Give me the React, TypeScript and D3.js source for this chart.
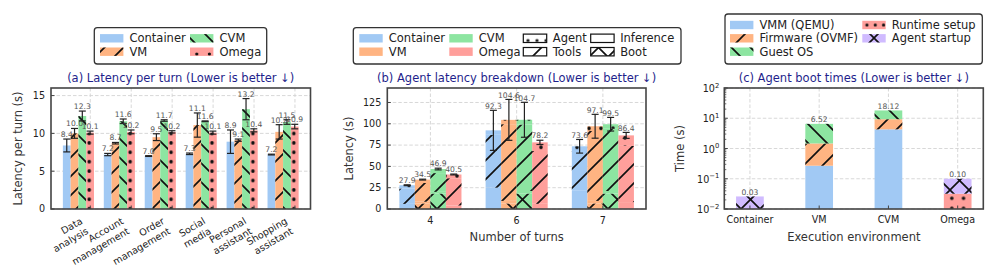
import React from 'react';
import * as d3 from 'd3';

const FONT = "'DejaVu Sans', sans-serif";
const ENV_NAMES = ['Container', 'VM', 'CVM', 'Omega'];
const ENV_COLORS = ['#a1c9f4', '#ffb482', '#8de5a1', '#ff9f9b'];
const PURPLE = '#d0bbff';

// ---------- (a) latency per turn ----------
const taskLines = [
  ['Data', 'analysis'],
  ['Account', 'management'],
  ['Order', 'management'],
  ['Social', 'media'],
  ['Personal', 'assistant'],
  ['Shopping', 'assistant'],
];
const latContainer = [8.4, 7.2, 7.0, 7.3, 8.9, 7.2];
const latVM = [10.0, 8.7, 9.5, 11.1, 9.1, 10.2];
const latCVM = [12.3, 11.6, 11.7, 11.6, 13.2, 11.5];
const latOmega = [10.1, 10.2, 10.2, 10.1, 10.4, 10.9];
const errContainer = [0.85, 0.15, 0.05, 0.1, 1.55, 0.05];
const errVM = [0.65, 0.1, 0.45, 1.6, 0.15, 0.95];
const errCVM = [0.65, 0.3, 0.1, 0.05, 1.4, 0.3];
const errOmega = [0.2, 0.25, 0.15, 0.2, 0.2, 0.3];
const aTicks = [0, 5, 10, 15];

// ---------- (b) agent latency breakdown ----------
const turns = ['4', '6', '7'];
// [env][turn]
const bootB = [[0.03, 0.03, 0.03], [6.52, 6.52, 6.52], [18.12, 18.12, 18.12], [0.1, 0.1, 0.1]];
const inferB = [[6, 25, 22], [2, 3, 3], [2, 3, 3], [4, 6, 8]];
const toolsB = [[18, 62, 46], [22, 90, 82], [22, 78, 73], [32, 62, 66]];
const agentB = [[3.87, 5.27, 5.57], [3.98, 5.08, 5.58], [4.78, 5.58, 5.38], [4.4, 10.1, 12.3]];
const errB = [[0.5, 23.5, 8], [0.5, 24, 14], [1.0, 20.5, 8], [0.5, 2.5, 3.5]];
const bTicks = [0, 25, 50, 75, 100, 125];

// ---------- (c) agent boot times ----------
const bootEnvs = ['Container', 'VM', 'CVM', 'Omega'];
const vmmC = [0, 0.27, 4.3, 0];
const firmwareC = [0, 1.2, 5.0, 0];
const guestC = [0, 5.05, 8.82, 0];
const runtimeC = [0, 0, 0, 0.032];
const startupC = [0.026, 0, 0, 0.068];
const cExps = [-2, -1, 0, 1, 2];

const HP = 19;
const FWD = `M${-HP / 4},${HP / 4} L${HP / 4},${-HP / 4} M0,${HP} L${HP},0 M${HP * 0.75},${HP * 1.25} L${HP * 1.25},${HP * 0.75}`;
const BACK = `M0,0 L${HP},${HP} M${-HP / 4},${HP * 0.75} L${HP / 4},${HP * 1.25} M${HP * 0.75},${-HP / 4} L${HP * 1.25},${HP / 4}`;

function LinePat({ id, d }: { id: string; d: string }) {
  return (
    <pattern id={id} patternUnits="userSpaceOnUse" width={HP} height={HP}>
      <path d={d} stroke="#111" strokeWidth={1.7} fill="none" />
    </pattern>
  );
}
function DotPat({ id, x, y, w, h, r = 1.8 }: any) {
  return (
    <pattern id={id} patternUnits="userSpaceOnUse" x={x} y={y} width={w} height={h}>
      <circle cx={w / 2} cy={h / 2} r={r} fill="#111" />
    </pattern>
  );
}

function HatchRect({ x, y, w, h, color, hatch, stroke }: any) {
  if (h <= 0 || w <= 0) return null;
  return (
    <g>
      <rect x={x} y={y} width={w} height={h} fill={color} stroke={stroke || 'none'} strokeWidth={stroke ? 1.2 : 0} />
      {hatch && <rect x={x} y={y} width={w} height={h} fill={`url(#${hatch})`} />}
    </g>
  );
}

function Frame({ x0, x1, y0, y1 }: any) {
  return <rect x={x0} y={y1} width={x1 - x0} height={y0 - y1} fill="none" stroke="#444" strokeWidth={1.6} />;
}

function LegendItem({ x, y, color, hatch, label, outline }: any) {
  return (
    <g>
      <HatchRect x={x} y={y - 4.2} w={23.4} h={8.4} color={color} hatch={hatch} stroke={outline ? '#111' : null} />
      <text x={x + 29.5} y={y + 4.1} fontSize={11.5} fill="#222" fontFamily={FONT}>{label}</text>
    </g>
  );
}

function ErrBar({ x, lo, hi }: any) {
  return (
    <g stroke="#222" strokeWidth={1.2}>
      <line x1={x} x2={x} y1={lo} y2={hi} />
      <line x1={x - 3.5} x2={x + 3.5} y1={lo} y2={lo} />
      <line x1={x - 3.5} x2={x + 3.5} y1={hi} y2={hi} />
    </g>
  );
}

const GRID = { stroke: '#d4d4d4', strokeWidth: 0.9, strokeDasharray: '3.5,2' };

export default function App() {
  // scales
  const xA = d3.scaleLinear().domain([-0.67, 5.67]).range([51, 310.5]);
  const yA = d3.scaleLinear().domain([0, 16]).range([209, 88]);
  const xB = d3.scaleLinear().domain([-0.5, 2.5]).range([387.3, 646]);
  const yB = d3.scaleLinear().domain([0, 142]).range([209, 88]);
  const xC = d3.scaleLinear().domain([-0.37, 3.37]).range([724.3, 983.3]);
  const yC = d3.scaleLog().domain([1e-2, 1e2]).range([209, 88]).clamp(true);

  const wA = 0.19;
  const tickOffA = 0.29;
  const wB = 0.18;
  const wC = 0.4;

  const seriesA = [latContainer, latVM, latCVM, latOmega];
  const errA = [errContainer, errVM, errCVM, errOmega];
  const hatchA = [null, 'fwd', 'back', 'dotsA'];

  const dotsAW = (xA(1) - xA(0)) / 4;
  const omegaLeftA = xA(0 + 1 * wA);

  const stacksB = [bootB, inferB, toolsB, agentB];
  const hatchB = ['cross', null, 'fwd', 'dotsB'];

  const stacksC = [vmmC, firmwareC, guestC, runtimeC, startupC];
  const colorsC = [ENV_COLORS[0], ENV_COLORS[1], ENV_COLORS[2], ENV_COLORS[3], PURPLE];
  const hatchC = [null, 'fwd', 'back', 'dotsC', 'cross'];

  const [a0, a1] = xA.range();
  const [b0, b1] = xB.range();
  const [c0, c1] = xC.range();
  const bottom = 209, top = 88;

  const minorC: number[] = [];
  for (let d = -2; d < 2; d++) for (let m = 2; m <= 9; m++) minorC.push(m * Math.pow(10, d));

  return (
    <svg width={997} height={279} style={{ position: 'absolute', left: 0, top: 0, background: '#fff' }} fontFamily={FONT}>
      <defs>
        <LinePat id="fwd" d={FWD} />
        <LinePat id="back" d={BACK} />
        <LinePat id="cross" d={FWD + ' ' + BACK} />
        <DotPat id="dotsA" x={omegaLeftA + 3 - dotsAW / 2} y={yA(0) - 9.7 - 4.7} w={dotsAW} h={9.4} />
        <DotPat id="dotsB" x={583} y={123.55} w={12} h={9.5} />
        <DotPat id="dotsC" x={xC(3) - 11.7} y={193.3} w={11.7} h={10} />
        <DotPat id="legDotsA" x={190.5} y={44} w={12.6} h={20} r={1.6} />
        <DotPat id="legDotsB" x={523.5} y={30.5} w={9} h={20} r={1.6} />
        <DotPat id="legDotsC" x={862.8} y={19.5} w={8.3} h={11} r={1.6} />
      </defs>

      {/* ================= (a) ================= */}
      <g>
        {aTicks.map((t) => (
          <line key={'ga' + t} x1={a0} x2={a1} y1={yA(t)} y2={yA(t)} {...GRID} />
        ))}
        {taskLines.map((_, k) => (
          <line key={'gva' + k} x1={xA(k + tickOffA)} x2={xA(k + tickOffA)} y1={top} y2={bottom} {...GRID} />
        ))}
        {seriesA.map((vals, i) =>
          vals.map((v, k) => {
            const x0 = xA(k + (i - 2) * wA);
            const x1 = xA(k + (i - 1) * wA);
            return (
              <HatchRect key={`a${i}-${k}`} x={x0} y={yA(v)} w={x1 - x0} h={yA(0) - yA(v)} color={ENV_COLORS[i]} hatch={hatchA[i]} />
            );
          })
        )}
        {seriesA.map((vals, i) =>
          vals.map((v, k) => {
            const cx = xA(k + (i - 1.5) * wA);
            const e = errA[i][k];
            return (
              <g key={`ae${i}-${k}`}>
                <ErrBar x={cx} lo={yA(v - e)} hi={yA(v + e)} />
                <text x={cx} y={yA(v + e) - 2} fontSize={7.6} fill="#555" textAnchor="middle">{v.toFixed(1)}</text>
              </g>
            );
          })
        )}
        <Frame x0={a0} x1={a1} y0={bottom} y1={top} />
        {aTicks.map((t) => (
          <g key={'ta' + t}>
            <line x1={a0} x2={a0 + 3.5} y1={yA(t)} y2={yA(t)} stroke="#444" strokeWidth={1} />
            <text x={a0 - 6} y={yA(t) + 3.4} fontSize={9.6} textAnchor="end" fill="#222">{t}</text>
          </g>
        ))}
        {taskLines.map((lines, k) => {
          const tx = xA(k + tickOffA);
          return (
            <g key={'xa' + k}>
              <line x1={tx} x2={tx} y1={bottom} y2={bottom - 3.5} stroke="#444" strokeWidth={1} />
              <text transform={`translate(${tx - 7},223) rotate(-30)`} fontSize={9.6} textAnchor="end" fill="#222">
                {lines.map((l, j) => (
                  <tspan key={j} x={0} y={j * 11.7}>{l}</tspan>
                ))}
              </text>
            </g>
          );
        })}
        <text transform={`translate(21.5,${(top + bottom) / 2}) rotate(-90)`} fontSize={11.5} textAnchor="middle" fill="#333">
          Latency per turn (s)
        </text>
        <text x={(a0 + a1) / 2} y={82} fontSize={11.5} textAnchor="middle" fill="#1f1f8c">
          (a) Latency per turn (Lower is better ↓)
        </text>
        {/* legend */}
        <rect x={94.3} y={27.7} width={172.4} height={36.3} rx={3} fill="#fff" stroke="#333" strokeWidth={1.3} />
        <LegendItem x={100} y={38.3} color={ENV_COLORS[0]} label={ENV_NAMES[0]} />
        <LegendItem x={100} y={51.7} color={ENV_COLORS[1]} hatch="fwd" label={ENV_NAMES[1]} />
        <LegendItem x={190} y={38.3} color={ENV_COLORS[2]} hatch="back" label={ENV_NAMES[2]} />
        <LegendItem x={190} y={51.7} color={ENV_COLORS[3]} hatch="legDotsA" label={ENV_NAMES[3]} />
      </g>

      {/* ================= (b) ================= */}
      <g>
        {bTicks.map((t) => (
          <line key={'gb' + t} x1={b0} x2={b1} y1={yB(t)} y2={yB(t)} {...GRID} />
        ))}
        {turns.map((_, k) => (
          <line key={'gvb' + k} x1={xB(k)} x2={xB(k)} y1={top} y2={bottom} {...GRID} />
        ))}
        {ENV_NAMES.map((_, i) =>
          turns.map((_, k) => {
            const x0 = xB(k + (i - 2) * wB);
            const x1 = xB(k + (i - 1) * wB);
            let acc = 0;
            return (
              <g key={`b${i}-${k}`}>
                {stacksB.map((arr, s) => {
                  const v = arr[i][k];
                  const yTop = yB(acc + v);
                  const yBot = yB(acc);
                  acc += v;
                  return <HatchRect key={s} x={x0} y={yTop} w={x1 - x0} h={yBot - yTop} color={ENV_COLORS[i]} hatch={hatchB[s]} />;
                })}
              </g>
            );
          })
        )}
        {ENV_NAMES.map((_, i) =>
          turns.map((_, k) => {
            const cx = xB(k + (i - 1.5) * wB);
            const total = stacksB.reduce((s, arr) => s + arr[i][k], 0);
            const e = errB[i][k];
            return (
              <g key={`be${i}-${k}`}>
                <ErrBar x={cx} lo={yB(total - e)} hi={yB(total + e)} />
                <text x={cx} y={yB(total + e) - 1.8} fontSize={7.6} fill="#555" textAnchor="middle">{total.toFixed(1)}</text>
              </g>
            );
          })
        )}
        <Frame x0={b0} x1={b1} y0={bottom} y1={top} />
        {bTicks.map((t) => (
          <g key={'tb' + t}>
            <line x1={b0} x2={b0 + 3.5} y1={yB(t)} y2={yB(t)} stroke="#444" strokeWidth={1} />
            <text x={b0 - 6} y={yB(t) + 3.4} fontSize={9.6} textAnchor="end" fill="#222">{t}</text>
          </g>
        ))}
        {turns.map((t, k) => (
          <g key={'xb' + k}>
            <line x1={xB(k)} x2={xB(k)} y1={bottom} y2={bottom - 3.5} stroke="#444" strokeWidth={1} />
            <text x={xB(k)} y={223.5} fontSize={9.6} textAnchor="middle" fill="#222">{t}</text>
          </g>
        ))}
        <text x={(b0 + b1) / 2} y={240.5} fontSize={11.5} textAnchor="middle" fill="#333">Number of turns</text>
        <text transform={`translate(352.5,${(top + bottom) / 2}) rotate(-90)`} fontSize={11.5} textAnchor="middle" fill="#333">
          Latency (s)
        </text>
        <text x={(b0 + b1) / 2} y={82} fontSize={11.5} textAnchor="middle" fill="#1f1f8c">
          (b) Agent latency breakdown (Lower is better ↓)
        </text>
        <rect x={353.3} y={27.7} width={327.7} height={36.3} rx={3} fill="#fff" stroke="#333" strokeWidth={1.3} />
        <LegendItem x={359.3} y={38.3} color={ENV_COLORS[0]} label={ENV_NAMES[0]} />
        <LegendItem x={359.3} y={51.7} color={ENV_COLORS[1]} label={ENV_NAMES[1]} />
        <LegendItem x={449.3} y={38.3} color={ENV_COLORS[2]} label={ENV_NAMES[2]} />
        <LegendItem x={449.3} y={51.7} color={ENV_COLORS[3]} label={ENV_NAMES[3]} />
        <LegendItem x={523.3} y={38.3} color="#fff" hatch="legDotsB" outline label="Agent" />
        <LegendItem x={523.3} y={51.7} color="#fff" hatch="fwd" outline label="Tools" />
        <LegendItem x={590.7} y={38.3} color="#fff" outline label="Inference" />
        <LegendItem x={590.7} y={51.7} color="#fff" hatch="cross" outline label="Boot" />
      </g>

      {/* ================= (c) ================= */}
      <g>
        {cExps.map((p) => (
          <line key={'gc' + p} x1={c0} x2={c1} y1={yC(Math.pow(10, p))} y2={yC(Math.pow(10, p))} {...GRID} />
        ))}
        {bootEnvs.map((_, k) => (
          <line key={'gvc' + k} x1={xC(k)} x2={xC(k)} y1={top} y2={bottom} {...GRID} />
        ))}
        {bootEnvs.map((_, k) => {
          const x0 = xC(k - wC / 2);
          const x1 = xC(k + wC / 2);
          let acc = 0;
          return (
            <g key={'c' + k}>
              {stacksC.map((arr, s) => {
                const v = arr[k];
                if (v <= 0) return null;
                const yBot = acc <= 0 ? bottom : yC(acc);
                const yTop = yC(acc + v);
                acc += v;
                return <HatchRect key={s} x={x0} y={yTop} w={x1 - x0} h={yBot - yTop} color={colorsC[s]} hatch={hatchC[s]} />;
              })}
            </g>
          );
        })}
        {bootEnvs.map((_, k) => {
          const total = stacksC.reduce((s, arr) => s + arr[k], 0);
          return (
            <text key={'lc' + k} x={xC(k)} y={yC(total) - 1.8} fontSize={7.6} fill="#555" textAnchor="middle">
              {total.toFixed(2)}
            </text>
          );
        })}
        <Frame x0={c0} x1={c1} y0={bottom} y1={top} />
        {minorC.map((m, j) => (
          <line key={'mc' + j} x1={c0} x2={c0 + 2} y1={yC(m)} y2={yC(m)} stroke="#444" strokeWidth={0.8} />
        ))}
        {cExps.map((p) => (
          <g key={'tc' + p}>
            <line x1={c0} x2={c0 + 3.5} y1={yC(Math.pow(10, p))} y2={yC(Math.pow(10, p))} stroke="#444" strokeWidth={1} />
            <text x={c0 - 5} y={yC(Math.pow(10, p)) + 4} fontSize={9.6} textAnchor="end" fill="#222">
              10<tspan dy={-4.5} fontSize={6.8}>{p < 0 ? '\u2212' + Math.abs(p) : String(p)}</tspan>
            </text>
          </g>
        ))}
        {bootEnvs.map((n, k) => (
          <g key={'xc' + k}>
            <line x1={xC(k)} x2={xC(k)} y1={bottom} y2={bottom - 3.5} stroke="#444" strokeWidth={1} />
            <text x={xC(k)} y={223} fontSize={9.6} textAnchor="middle" fill="#222">{n}</text>
          </g>
        ))}
        <text x={(c0 + c1) / 2} y={240.5} fontSize={11.5} textAnchor="middle" fill="#333">Execution environment</text>
        <text transform={`translate(684,${(top + bottom) / 2}) rotate(-90)`} fontSize={11.5} textAnchor="middle" fill="#333">
          Time (s)
        </text>
        <text x={(c0 + c1) / 2} y={82} fontSize={11.5} textAnchor="middle" fill="#1f1f8c">
          (c) Agent boot times (Lower is better ↓)
        </text>
        <rect x={725} y={14} width={257.3} height={50} rx={3} fill="#fff" stroke="#333" strokeWidth={1.3} />
        <LegendItem x={730} y={25} color={ENV_COLORS[0]} label="VMM (QEMU)" />
        <LegendItem x={730} y={38.3} color={ENV_COLORS[1]} hatch="fwd" label="Firmware (OVMF)" />
        <LegendItem x={730} y={51.7} color={ENV_COLORS[2]} hatch="back" label="Guest OS" />
        <LegendItem x={862.3} y={25} color={ENV_COLORS[3]} hatch="legDotsC" label="Runtime setup" />
        <LegendItem x={862.3} y={38.3} color={PURPLE} hatch="cross" label="Agent startup" />
      </g>
    </svg>
  );
}
